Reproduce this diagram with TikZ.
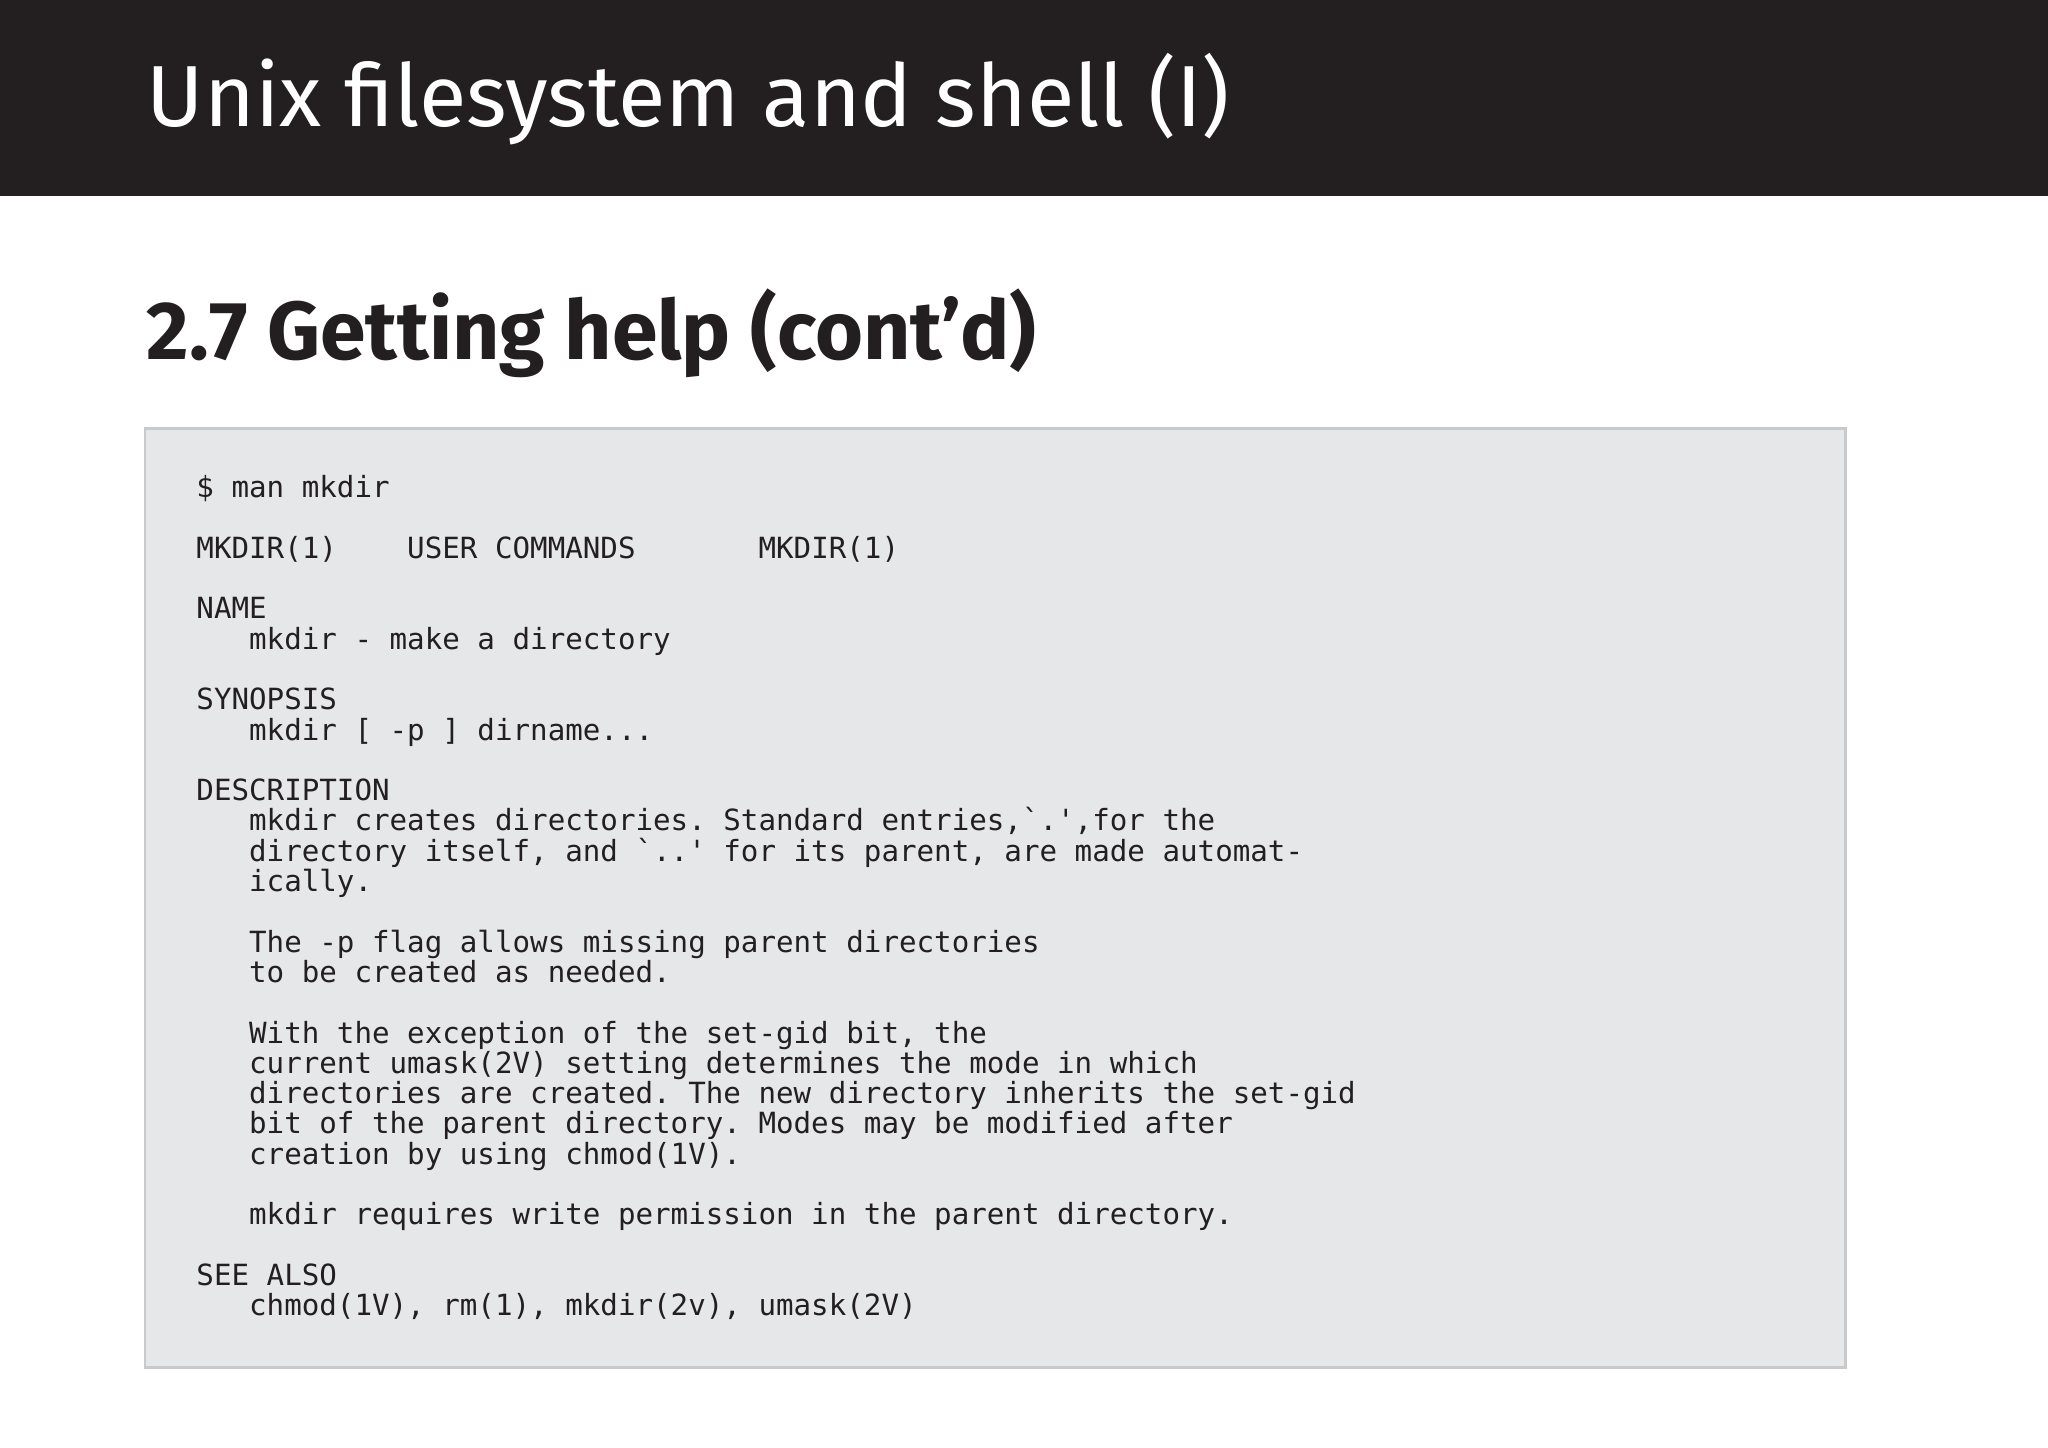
\documentclass[tikz,border=0pt]{standalone}
\usepackage{fontspec}
\setmainfont{Fira Sans}
\setmonofont{DejaVu Sans Mono}
\definecolor{bar}{HTML}{231F20}
\definecolor{ink}{HTML}{231F20}
\definecolor{codebg}{HTML}{E6E7E8}
\definecolor{codeline}{HTML}{C8C9CA}
\tikzset{codeln/.style={anchor=base west,inner sep=0pt,font=\ttfamily\fontsize{11.17}{11.6}\selectfont,text=ink}}
\begin{document}
\begin{tikzpicture}[x=0.5pt,y=-0.5pt]
\useasboundingbox (0,0) rectangle (1568,1108);
\fill[white] (0,0) rectangle (1568,1108);
\fill[bar] (0,0) rectangle (1568,150);
\node[anchor=base west,inner sep=0pt,text=white,font=\fontsize{33.2}{36}\selectfont] (title) at (112,97) {Unix filesystem and shell (I)};
\node[anchor=base west,inner sep=0pt,text=ink,font=\bfseries\fontsize{31.5}{36}\selectfont] (head) at (112,275) {2.7 Getting help (cont’d)};
\draw[codeline,fill=codebg,line width=1pt] (111,328) rectangle (1413,1047);
\foreach \i/\t in {
0/{\$ man mkdir},
2/{MKDIR(1)~~~~USER~COMMANDS~~~~~~~MKDIR(1)},
4/{NAME},
5/{~~~mkdir - make a directory},
7/{SYNOPSIS},
8/{~~~mkdir [ -p ] dirname...},
10/{DESCRIPTION},
11/{~~~mkdir creates directories. Standard entries,`.',for the},
12/{~~~directory itself, and `..' for its parent, are made automat-},
13/{~~~ically.},
15/{~~~The -p flag allows missing parent directories},
16/{~~~to be created as needed.},
18/{~~~With the exception of the set-gid bit, the},
19/{~~~current umask(2V) setting determines the mode in which},
20/{~~~directories are created. The new directory inherits the set-gid},
21/{~~~bit of the parent directory. Modes may be modified after},
22/{~~~creation by using chmod(1V).},
24/{~~~mkdir requires write permission in the parent directory.},
26/{SEE ALSO},
27/{~~~chmod(1V), rm(1), mkdir(2v), umask(2V)}}
  \node[codeln] (l\i) at (150,381+23.2*\i) {\t};
\end{tikzpicture}
\end{document}
